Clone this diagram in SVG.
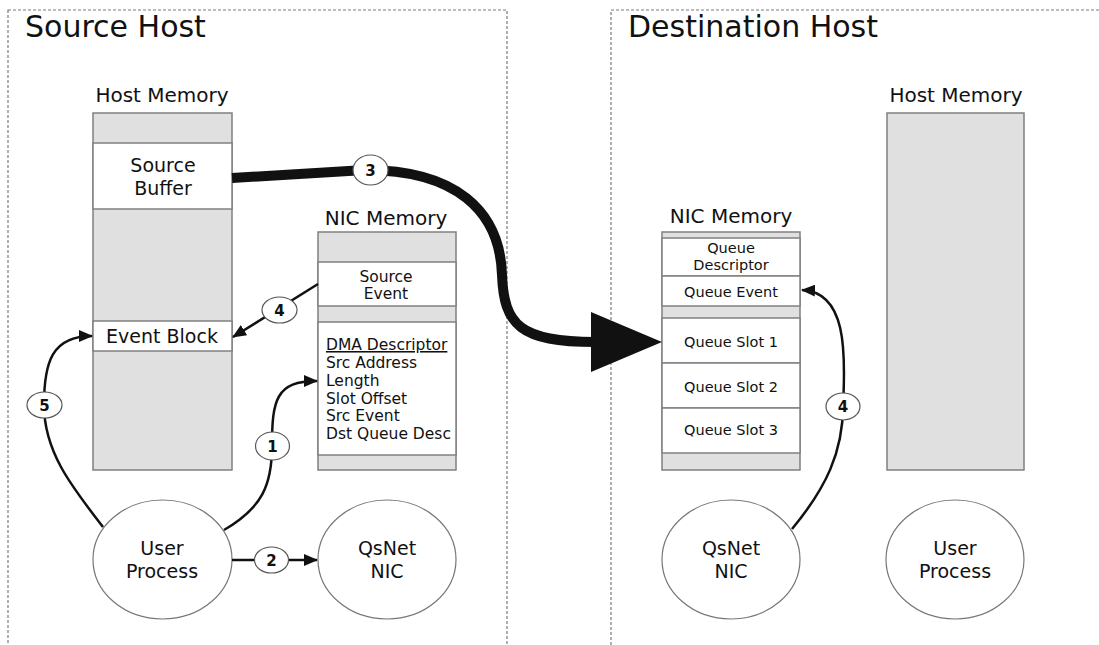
<svg xmlns="http://www.w3.org/2000/svg" width="1099" height="645" viewBox="0 0 1099 645">
  <style>
    text { font-family: "DejaVu Sans", "Liberation Sans", sans-serif; fill: #111; }
    .title { font-size: 30px; }
    .head { font-size: 20px; text-anchor: middle; }
    .big { font-size: 19px; text-anchor: middle; }
    .mid { font-size: 15.5px; text-anchor: middle; }
    .small { font-size: 14.5px; text-anchor: middle; }
    .dma { font-size: 15.5px; }
    .num { font-size: 15px; text-anchor: middle; font-weight: bold; }
    .frame { fill: none; stroke: #7a7a7a; stroke-width: 1.2; stroke-dasharray: 3 2; }
    .mem { fill: #e0e0e0; stroke: #808080; stroke-width: 1.5; }
    .slot { fill: #fff; stroke: #808080; stroke-width: 1.5; }
    .proc { fill: #fff; stroke: #777; stroke-width: 1.2; }
    .link { fill: none; stroke: #111; stroke-width: 2.5; }
    .tag { fill: #fff; stroke: #555; stroke-width: 1.2; }
  </style>
  <defs>
    <marker id="head" markerUnits="userSpaceOnUse" markerWidth="14" markerHeight="12" viewBox="0 0 14 12" refX="13" refY="6" orient="auto">
      <path d="M0,0 L14,6 L0,12 z" fill="#111"/>
    </marker>
  </defs>

  <rect width="1099" height="645" fill="#fff"/>

  <!-- host boundaries -->
  <g id="source-host">
    <rect class="frame" x="8" y="10" width="499" height="660"/>
    <text class="title" x="25" y="37">Source Host</text>
  </g>
  <g id="destination-host">
    <rect class="frame" x="611" y="10" width="520" height="660"/>
    <text class="title" x="628" y="37">Destination Host</text>
  </g>

  <!-- source host memory -->
  <g id="src-host-memory">
    <text class="head" x="162" y="102">Host Memory</text>
    <rect class="mem" x="93" y="113" width="139" height="357"/>
    <rect class="slot" x="93" y="143" width="139" height="66"/>
    <text class="big" x="163" y="172">Source</text>
    <text class="big" x="163" y="195">Buffer</text>
    <rect class="slot" x="93" y="321" width="139" height="30"/>
    <text class="big" x="162" y="343">Event Block</text>
  </g>

  <!-- source NIC memory -->
  <g id="src-nic-memory">
    <text class="head" x="386" y="225">NIC Memory</text>
    <rect class="mem" x="318" y="232" width="138" height="238"/>
    <rect class="slot" x="318" y="262" width="138" height="44"/>
    <text class="mid" x="386" y="282">Source</text>
    <text class="mid" x="386" y="299">Event</text>
    <rect class="slot" x="318" y="322" width="138" height="133"/>
    <text class="dma" x="326" y="350" text-decoration="underline">DMA Descriptor</text>
    <text class="dma" x="326" y="368">Src Address</text>
    <text class="dma" x="326" y="386">Length</text>
    <text class="dma" x="326" y="404">Slot Offset</text>
    <text class="dma" x="326" y="421">Src Event</text>
    <text class="dma" x="326" y="439">Dst Queue Desc</text>
  </g>

  <!-- destination NIC memory -->
  <g id="dst-nic-memory">
    <text class="head" x="731" y="223">NIC Memory</text>
    <rect class="mem" x="662" y="232" width="138" height="238"/>
    <rect class="slot" x="662" y="238" width="138" height="38"/>
    <text class="small" x="731" y="253">Queue</text>
    <text class="small" x="731" y="270">Descriptor</text>
    <rect class="slot" x="662" y="276" width="138" height="30"/>
    <text class="small" x="731" y="297">Queue Event</text>
    <rect class="slot" x="662" y="318" width="138" height="45"/>
    <text class="small" x="731" y="347">Queue Slot 1</text>
    <rect class="slot" x="662" y="363" width="138" height="45"/>
    <text class="small" x="731" y="392">Queue Slot 2</text>
    <rect class="slot" x="662" y="408" width="138" height="45"/>
    <text class="small" x="731" y="435">Queue Slot 3</text>
  </g>

  <!-- destination host memory -->
  <g id="dst-host-memory">
    <text class="head" x="956" y="102">Host Memory</text>
    <rect class="mem" x="887" y="113" width="137" height="357"/>
  </g>

  <!-- processes and NICs -->
  <g id="src-user-process">
    <ellipse class="proc" cx="162.5" cy="559.5" rx="69.5" ry="59.5"/>
    <text class="big" x="162" y="555">User</text>
    <text class="big" x="162" y="578">Process</text>
  </g>
  <g id="src-qsnet-nic">
    <ellipse class="proc" cx="387" cy="559.5" rx="69" ry="59.5"/>
    <text class="big" x="387" y="555">QsNet</text>
    <text class="big" x="387" y="578">NIC</text>
  </g>
  <g id="dst-qsnet-nic">
    <ellipse class="proc" cx="731" cy="559.5" rx="69" ry="59.5"/>
    <text class="big" x="731" y="555">QsNet</text>
    <text class="big" x="731" y="578">NIC</text>
  </g>
  <g id="dst-user-process">
    <ellipse class="proc" cx="955" cy="559.5" rx="69" ry="59.5"/>
    <text class="big" x="955" y="555">User</text>
    <text class="big" x="955" y="578">Process</text>
  </g>

  <!-- connectors -->
  <g id="connectors">
    <!-- 1: user process writes DMA descriptor -->
    <path class="link" d="M224,530 C262,508 272,485 272,446 C272,400 276,381 317,381" marker-end="url(#head)"/>
    <ellipse class="tag" cx="272.5" cy="446" rx="17" ry="14"/>
    <text class="num" x="272.5" y="451.5" font-weight="normal">1</text>

    <!-- 2: user process kicks the NIC -->
    <path class="link" d="M232,560 L317,560" marker-end="url(#head)"/>
    <ellipse class="tag" cx="271.5" cy="560" rx="17" ry="13"/>
    <text class="num" x="271.5" y="565.5">2</text>

    <!-- 3: data transfer to the destination queue slot -->
    <path d="M232,178 L365,170 C455,170 500,210 502,275 C504,325 520,342 595,342" fill="none" stroke="#111" stroke-width="10"/>
    <polygon points="591,312 662,342 591,372" fill="#111"/>
    <ellipse class="tag" cx="370.5" cy="170" rx="17.5" ry="15"/>
    <text class="num" x="370.5" y="175.5">3</text>

    <!-- 4: source event fires into the event block -->
    <path class="link" d="M318,284 L233,337" marker-end="url(#head)"/>
    <ellipse class="tag" cx="279.5" cy="310" rx="17.5" ry="13"/>
    <text class="num" x="279.5" y="315.5" font-weight="normal">4</text>

    <!-- 5: user process polls the event block -->
    <path class="link" d="M103,527 C72,487 44,452 44,405 C44,362 52,336 92,336" marker-end="url(#head)"/>
    <ellipse class="tag" cx="44.5" cy="405" rx="17.5" ry="13"/>
    <text class="num" x="44.5" y="410.5">5</text>

    <!-- 4: destination NIC sets the queue event -->
    <path class="link" d="M792,529 C826,488 843,452 843,406 C846,350 846,292 802,290" marker-end="url(#head)"/>
    <ellipse class="tag" cx="843" cy="406.5" rx="17" ry="13.5"/>
    <text class="num" x="843" y="412" font-weight="normal">4</text>
  </g>
</svg>
